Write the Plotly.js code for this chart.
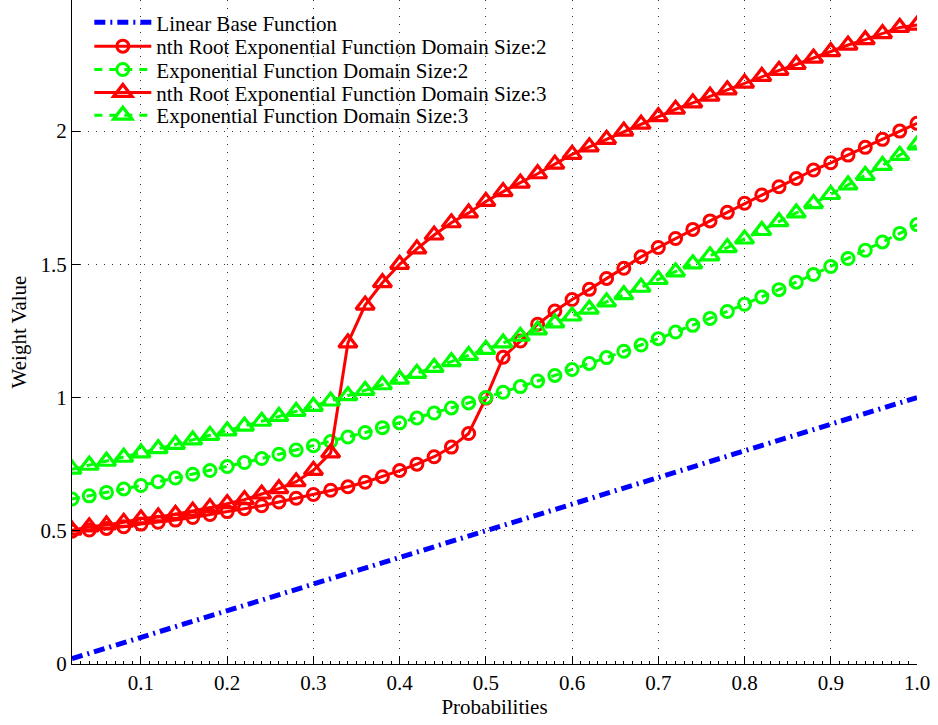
<!DOCTYPE html>
<html>
<head>
<meta charset="utf-8">
<script src="https://cdn.plot.ly/plotly-3.0.1.min.js"></script>
<style>html,body{margin:0;padding:0;background:#fff;}#chart{width:938px;height:725px;}</style>
</head>
<body>
<div id="chart"></div>
<script>
// Probabilities (x), step 0.02
const probabilities = [0.02,0.04,0.06,0.08,0.10,0.12,0.14,0.16,0.18,0.20,0.22,0.24,0.26,0.28,0.30,0.32,0.34,0.36,0.38,0.40,0.42,0.44,0.46,0.48,0.50,0.52,0.54,0.56,0.58,0.60,0.62,0.64,0.66,0.68,0.70,0.72,0.74,0.76,0.78,0.80,0.82,0.84,0.86,0.88,0.90,0.92,0.94,0.96,0.98,1.00];

const linearBase = [0.02,0.04,0.06,0.08,0.10,0.12,0.14,0.16,0.18,0.20,0.22,0.24,0.26,0.28,0.30,0.32,0.34,0.36,0.38,0.40,0.42,0.44,0.46,0.48,0.50,0.52,0.54,0.56,0.58,0.60,0.62,0.64,0.66,0.68,0.70,0.72,0.74,0.76,0.78,0.80,0.82,0.84,0.86,0.88,0.90,0.92,0.94,0.96,0.98,1.00];

const nthRootSize2 = [0.498,0.503,0.509,0.515,0.525,0.532,0.540,0.550,0.561,0.572,0.583,0.594,0.608,0.622,0.636,0.652,0.665,0.682,0.703,0.726,0.750,0.778,0.814,0.865,0.998,1.151,1.212,1.275,1.325,1.368,1.406,1.447,1.485,1.528,1.563,1.597,1.631,1.663,1.695,1.729,1.760,1.791,1.822,1.854,1.881,1.910,1.939,1.969,2.000,2.029];

const expSize2 = [0.619,0.631,0.644,0.657,0.670,0.684,0.698,0.712,0.726,0.741,0.756,0.771,0.787,0.803,0.819,0.835,0.852,0.869,0.887,0.905,0.923,0.942,0.961,0.980,1.000,1.020,1.041,1.062,1.083,1.105,1.128,1.150,1.174,1.197,1.221,1.246,1.271,1.297,1.323,1.350,1.377,1.405,1.433,1.462,1.492,1.522,1.553,1.584,1.616,1.649];

const nthRootSize3 = [0.502,0.515,0.522,0.532,0.545,0.552,0.562,0.574,0.587,0.602,0.617,0.638,0.658,0.684,0.727,0.792,1.205,1.347,1.431,1.500,1.558,1.610,1.656,1.693,1.736,1.773,1.805,1.840,1.876,1.913,1.941,1.969,2.000,2.026,2.054,2.082,2.106,2.131,2.155,2.180,2.205,2.228,2.250,2.274,2.298,2.323,2.343,2.366,2.389,2.398];

const expSize3 = [0.731,0.746,0.761,0.776,0.792,0.808,0.824,0.841,0.858,0.875,0.893,0.911,0.929,0.948,0.967,0.987,1.007,1.027,1.048,1.069,1.091,1.113,1.135,1.158,1.181,1.205,1.230,1.254,1.280,1.306,1.332,1.359,1.386,1.414,1.443,1.472,1.502,1.532,1.563,1.595,1.627,1.660,1.693,1.728,1.762,1.798,1.834,1.871,1.909,1.948];

const seriesNames = [
  "Linear Base Function",
  "nth Root Exponential Function Domain Size:2",
  "Exponential Function Domain Size:2",
  "nth Root Exponential Function Domain Size:3",
  "Exponential Function Domain Size:3"
];

const xTickVals = [0.1,0.2,0.3,0.4,0.5,0.6,0.7,0.8,0.9,1.0];
const xTickText = ["0.1","0.2","0.3","0.4","0.5","0.6","0.7","0.8","0.9","1.0"];
const yTickVals = [0,0.5,1,1.5,2];
const yTickText = ["0","0.5","1","1.5","2"];

const RED = "rgb(255,0,0)";
const GREEN = "rgb(0,255,0)";
const BLUE = "rgb(0,0,255)";
const FONT = "Liberation Serif, Times New Roman, serif";
const FS = 21;

const traces = [
  {x: probabilities, y: linearBase, name: seriesNames[0], mode: "lines", legend: "legend",
   line: {color: BLUE, width: 5, dash: "11px,5px,2px,5px"}},
  {x: probabilities, y: nthRootSize2, name: seriesNames[1], mode: "lines+markers", legend: "legend2",
   line: {color: RED, width: 3},
   marker: {symbol: "circle-open", size: 12, color: RED, line: {width: 3, color: RED}}},
  {x: probabilities, y: expSize2, name: seriesNames[2], mode: "lines+markers", legend: "legend3",
   line: {color: GREEN, width: 3, dash: "8px,7px"},
   marker: {symbol: "circle-open", size: 12, color: GREEN, line: {width: 3, color: GREEN}}},
  {x: probabilities, y: nthRootSize3, name: seriesNames[3], mode: "lines+markers", legend: "legend4",
   line: {color: RED, width: 3},
   marker: {symbol: "triangle-up-open", size: 16, color: RED, line: {width: 3.2, color: RED}}},
  {x: probabilities, y: expSize3, name: seriesNames[4], mode: "lines+markers", legend: "legend5",
   line: {color: GREEN, width: 3, dash: "8px,7px"},
   marker: {symbol: "triangle-up-open", size: 16, color: GREEN, line: {width: 3.2, color: GREEN}}}
];

const PLOT_H = 664;
const rowCenters = [22.7, 46.5, 69.8, 92.8, 115.5];
function legendAt(py) {
  return {x: 0.0205, y: 1 - py / PLOT_H, xanchor: "left", yanchor: "middle",
          bgcolor: "rgba(0,0,0,0)", borderwidth: 0,
          font: {family: FONT, size: FS, color: "#000"},
          itemwidth: 57, tracegroupgap: 0};
}

const layout = {
  width: 938, height: 725,
  margin: {l: 72, r: 21, t: 0, b: 61},
  paper_bgcolor: "#fff", plot_bgcolor: "#fff",
  font: {family: FONT, size: FS, color: "#000"},
  showlegend: true,
  legend: legendAt(rowCenters[0]),
  legend2: legendAt(rowCenters[1]),
  legend3: legendAt(rowCenters[2]),
  legend4: legendAt(rowCenters[3]),
  legend5: legendAt(rowCenters[4]),
  xaxis: {
    range: [0.02, 1.0], tickvals: xTickVals, ticktext: xTickText,
    ticks: "inside", ticklen: 8, tickcolor: "#000", tickwidth: 1,
    showline: true, linecolor: "#000", linewidth: 1, mirror: false,
    showgrid: true, gridcolor: "#333", gridwidth: 1, griddash: "1px,7px",
    zeroline: false,
    minor: {dtick: 0.01, ticks: "inside", ticklen: 3, tickcolor: "#000", showgrid: false},
    tickfont: {family: FONT, size: FS, color: "#000"},
    title: {text: "Probabilities", font: {family: FONT, size: FS, color: "#000"}, standoff: 4}
  },
  yaxis: {
    range: [0, 2.492], tickvals: yTickVals, ticktext: yTickText,
    ticks: "inside", ticklen: 8, tickcolor: "#000", tickwidth: 1,
    showline: true, linecolor: "#000", linewidth: 1, mirror: false,
    showgrid: true, gridcolor: "#333", gridwidth: 1, griddash: "1px,7px",
    zeroline: false,
    tickfont: {family: FONT, size: FS, color: "#000"},
    title: {text: "Weight Value", font: {family: FONT, size: FS, color: "#000"}, standoff: 8}
  }
};

Plotly.newPlot("chart", traces, layout, {staticPlot: true, displayModeBar: false});
</script>
</body>
</html>
